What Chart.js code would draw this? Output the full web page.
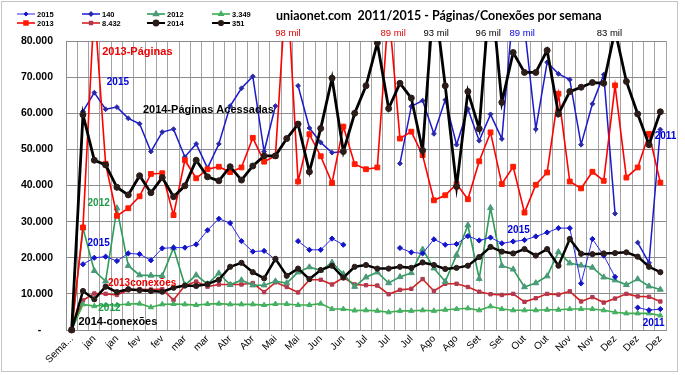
<!DOCTYPE html>
<html>
<head>
<meta charset="utf-8">
<script src="https://cdn.jsdelivr.net/npm/chart.js@4.4.1/dist/chart.umd.min.js"></script>
<style>
  html, body { margin: 0; padding: 0; background: #fff; }
  #wrap { position: relative; width: 685px; height: 375px; }
</style>
</head>
<body>
<div id="wrap"><canvas id="chart" width="685" height="375"></canvas></div>
<script>
// week labels (only every other one is shown on the axis)
const weeks = ["Semana",
  "jan", "jan", "jan", "jan", "fev", "fev", "fev", "fev", "mar", "mar", "mar", "mar", "mar",
  "Abr", "Abr", "Abr", "Abr", "Mai", "Mai", "Mai", "Jun", "Jun", "Jun", "Jun", "Jul",
  "Jul", "Jul", "Jul", "Jul", "Jul", "Ago", "Ago", "Ago", "Ago", "Set", "Set", "Set",
  "Set", "Out", "Out", "Out", "Out", "Nov", "Nov", "Nov", "Nov", "Dez", "Dez", "Dez",
  "Dez", "Dez", "Dez"];

const yTicks = [0, 10000, 20000, 30000, 40000, 50000, 60000, 70000, 80000];

// 2015 (and 2011 at the end)
const pages2015 = [null, 60500, 65700, 61100, 61700, 58600, 57100, 49400, 54800, 55600,
  47900, 51500, 44800, 51500, 62000, 66900, 70200, 49400, 62000, null,
  67600, 55900, 51900, 49100, 49400, null, null, null, null, 46100,
  61900, 63500, 54300, 63700, 51300, 61200, 52400, 59700, 52900, 89000,
  84000, 55600, 74100, 70900, 69300, 51300, 62600, 70700, 32200, null,
  24200, 18600, 55500];
const conn2015 = [null, 18200, 20000, 20300, 19100, 21200, 21000, 19300, 22600, 22800,
  22800, 23700, 27600, 30800, 29600, 24600, 21700, 21900, 19500, null,
  24600, 22200, 22200, 25300, 23600, null, null, null, null, 22700,
  21500, 21200, 25100, 23600, 23800, 26000, 24800, 25600, 24000, 24500,
  24900, 25900, 27000, 28200, 28200, 12900, 25200, 20600, 14700, null,
  6200, 5500, 5800];

// 2012
const pages2012 = [0, 28200, 16400, 13500, 33700, 17800, 15200, 15100, 15000, 22700,
  12400, 15200, 12700, 15700, 12500, 13800, 12400, 12400, 13500, 13000,
  16000, 17400, 16500, 18700, 15500, 12000, 14600, 16000, 13000, 14700,
  15800, 22300, 17100, 13400, 20800, 29000, 14200, 33800, 17800, 16800,
  11900, 13000, 14900, 21600, 18500, 17900, 17300, 14600, 13800, 12500,
  14100, 12100, 11200];
const conn2012 = [0, 7100, 6600, 6900, 6900, 7200, 7300, 6300, 7100, 7200,
  7100, 6900, 7200, 7300, 7100, 7100, 7100, 6900, 7200, 7200,
  6900, 6900, 7300, 5800, 5800, 5400, 5450, 5300, 4900, 5300,
  5300, 5450, 5300, 5600, 5800, 6000, 5450, 6550, 5800, 5450,
  5450, 5450, 5600, 5600, 5800, 5800, 5800, 5450, 4900, 4600,
  4600, 4600, 4000];

// 2013
const pages2013 = [0, 28400, 90000, 46000, 31600, 33700, 37000, 43200, 43400, 31800,
  47000, 42000, 44500, 45200, 43700, 45000, 53200, 46600, 48200, 98000,
  41100, 54200, 48100, 40700, 56300, 45900, 44500, 45000, 89000, 53000,
  54900, 48400, 35900, 37300, 40400, 36200, 46700, 54700, 40400, 45200,
  32500, 40200, 43600, 65400, 41100, 39200, 43800, 41300, 67700, 42200,
  45000, 54300, 40800];
const conn2013 = [0, 8200, 10100, 10000, 9700, 11000, 11300, 11200, 11300, 8300,
  12300, 13400, 12000, 12600, 12600, 12600, 13000, 10500, 13200, 11900,
  10400, 13900, 13900, 12600, 14500, 12600, 12400, 12300, 9900, 11100,
  11400, 14100, 10800, 12800, 12800, 11900, 10600, 9900, 9700, 10000,
  7800, 8800, 10000, 9800, 10700, 7900, 9100, 7600, 8700, 10000,
  9300, 9200, 7900];

// 2014
const pages2014 = [0, 59600, 47000, 45700, 39500, 37400, 42700, 38000, 42200, 36900,
  39900, 47000, 42400, 41300, 45200, 41500, 45400, 48200, 48200, 53000,
  57000, 43800, 55800, 69700, 49400, 60000, 67600, 79500, 61300, 68300,
  64200, 49700, 93000, 67600, 39700, 66000, 55700, 96000, 63000, 76800,
  71300, 71300, 77400, 59800, 66000, 67200, 68500, 68300, 83000, 68800,
  59800, 51300, 60400];
const conn2014 = [0, 10800, 8500, 12000, 10500, 11300, 11000, 10800, 10600, 11700,
  12300, 12200, 12700, 13900, 17500, 18600, 16000, 14300, 19700, 15000,
  17000, 14100, 16600, 17800, 14500, 17500, 18000, 17000, 17000, 17500,
  17200, 18700, 18000, 16900, 17200, 17800, 20200, 23000, 21700, 21200,
  22400, 20600, 22400, 17800, 25200, 21100, 21000, 21200, 21300, 21500,
  20300, 17500, 16000];

// values above the 80.000 ceiling, written over the plot
const peakNotes = [
  { text: "98 mil", color: "#e00000", at: 19.1 },
  { text: "89 mil", color: "#e00000", at: 28.4 },
  { text: "93 mil", color: "#000000", at: 32.2 },
  { text: "96 mil", color: "#000000", at: 36.8 },
  { text: "89 mil", color: "#0000e0", at: 39.8 },
  { text: "83 mil", color: "#000000", at: 47.5 }
];

// series captions inside the plot (anchored on week index / value)
const captions = [
  { text: "2013-Páginas", color: "#ee0000", at: 2.7, val: 77000, size: 11 },
  { text: "2015", color: "#0000dd", at: 3.1, val: 68700, size: 10 },
  { text: "2014-Páginas Acessadas", color: "#000000", at: 6.3, val: 60900, size: 11 },
  { text: "2012", color: "#1f9b4a", at: 1.4, val: 35200, size: 10 },
  { text: "2015", color: "#0000dd", at: 1.4, val: 24100, size: 10 },
  { text: "2013conexões", color: "#ee0000", at: 3.2, val: 13000, size: 10 },
  { text: "2012", color: "#1f9b4a", at: 2.35, val: 6100, size: 10 },
  { text: "2014-conexões", color: "#000000", at: 0.6, val: 2200, size: 11 },
  { text: "2015", color: "#0000dd", at: 38.5, val: 27700, size: 10 },
  { text: "2011", color: "#0000dd", at: 51.5, val: 53500, size: 10 },
  { text: "2011", color: "#0000dd", at: 50.45, val: 1900, size: 10 }
];

function series(label, data, color, width, style, radius, fill, order) {
  return {
    label,
    data,
    order,
    borderColor: color,
    borderWidth: width,
    pointStyle: style,
    pointRadius: radius,
    pointBackgroundColor: fill,
    pointBorderColor: fill,
    pointBorderWidth: 1,
    tension: 0,
    spanGaps: false,
    clip: { left: 8, right: 8, top: 0, bottom: 8 }
  };
}

const datasets = [
  series("2015", conn2015, "#2a2ae8", 1, "rectRot", 2.6, "#1414c8", 5),
  series("140", pages2015, "#1a1acc", 1.5, "rectRot", 2.4, "#2a2aa8", 4),
  series("2012", pages2012, "#2e9c5a", 1.6, "triangle", 3.4, "#4a9a7a", 6),
  series("3.349", conn2012, "#3bb04c", 1.6, "triangle", 3, "#45b065", 7),
  series("2013", pages2013, "#ff0000", 1.6, "rect", 3.4, "#ff1a00", 3),
  series("8.432", conn2013, "#d42020", 1.6, "rect", 2.4, "#b03850", 8),
  series("2014", pages2014, "#000000", 2.8, "circle", 3, "#2a1c18", 1),
  series("351", conn2014, "#000000", 2.5, "circle", 2.6, "#2a1c18", 2)
];

const decor = {
  id: "decor",
  afterDraw(chart) {
    const ctx = chart.ctx;
    const x = chart.scales.x;
    const y = chart.scales.y;
    ctx.save();

    // frame
    ctx.strokeStyle = "#c4c4c4";
    ctx.lineWidth = 1;
    ctx.strokeRect(1.5, 1.5, 676, 370);

    // title, fitted to the width seen in the picture
    const title = "uniaonet.com  2011/2015 - Páginas/Conexões por semana";
    ctx.font = "bold 14px Lato";
    const w = ctx.measureText(title).width;
    ctx.font = "bold " + (14 * 326 / w).toFixed(2) + "px Lato";
    ctx.fillStyle = "#000";
    ctx.textAlign = "left";
    ctx.textBaseline = "middle";
    ctx.fillText(title, 276, 16);

    // legend, two rows of four
    chart.data.datasets.forEach((ds, i) => {
      const px = 17 + (i % 4) * 65;
      const py = i < 4 ? 14 : 23;
      ctx.strokeStyle = ds.borderColor;
      ctx.lineWidth = Math.min(ds.borderWidth, 2);
      ctx.beginPath();
      ctx.moveTo(px, py);
      ctx.lineTo(px + 18, py);
      ctx.stroke();
      ctx.fillStyle = ds.pointBackgroundColor;
      ctx.strokeStyle = ds.pointBorderColor;
      Chart.helpers.drawPoint(ctx, { pointStyle: ds.pointStyle, radius: ds.pointRadius * 0.8, borderWidth: 1, rotation: 0 }, px + 9, py);
      ctx.fillStyle = "#000";
      ctx.font = "bold 7.5px 'Liberation Sans'";
      ctx.textAlign = "left";
      ctx.fillText(ds.label, px + 20, py + 0.5);
    });

    // values above the ceiling
    ctx.font = "9.5px 'Liberation Sans'";
    ctx.textAlign = "center";
    peakNotes.forEach((n) => {
      ctx.fillStyle = n.color;
      ctx.fillText(n.text, x.getPixelForValue(n.at), chart.chartArea.top - 8);
    });

    // captions
    ctx.textAlign = "left";
    captions.forEach((c) => {
      ctx.font = "bold " + c.size + "px 'Liberation Sans'";
      ctx.fillStyle = c.color;
      ctx.fillText(c.text, x.getPixelForValue(c.at), y.getPixelForValue(c.val));
    });
    ctx.restore();
  }
};

function fmt(v) {
  if (v === 0) return "-    ";
  return String(v).replace(/\B(?=(\d{3})+(?!\d))/g, ".");
}

new Chart(document.getElementById("chart"), {
  type: "line",
  data: { labels: weeks, datasets },
  options: {
    responsive: false,
    animation: false,
    events: [],
    layout: { padding: { top: 41, right: 19, left: 0, bottom: 0 } },
    plugins: { legend: { display: false }, tooltip: { enabled: false }, title: { display: false } },
    scales: {
      x: {
        offset: true,
        grid: { offset: true, color: "#a3a3a3", lineWidth: 1, drawTicks: false },
        border: { color: "#8c8c8c" },
        afterFit: (s) => { s.height = 45; },
        ticks: {
          autoSkip: false,
          minRotation: 45,
          maxRotation: 45,
          padding: 3,
          color: "#000",
          font: { family: "'Liberation Sans'", size: 10 },
          callback: (v, i) => {
            if (i % 2 !== 0) return "";
            const t = weeks[i];
            return t.length > 5 ? t.slice(0, 4) + "..." : t;
          }
        }
      },
      y: {
        min: 0,
        max: 80000,
        afterFit: (s) => { s.width = 66; },
        afterBuildTicks: (s) => { s.ticks = yTicks.map((v) => ({ value: v })); },
        grid: { color: "#8c8c8c", lineWidth: 1, drawTicks: false },
        border: { color: "#8c8c8c" },
        ticks: {
          padding: 13,
          color: "#000",
          font: { family: "'Liberation Sans'", size: 10.5, weight: "bold" },
          callback: (v) => fmt(v)
        }
      }
    }
  },
  plugins: [decor]
});
</script>
</body>
</html>
